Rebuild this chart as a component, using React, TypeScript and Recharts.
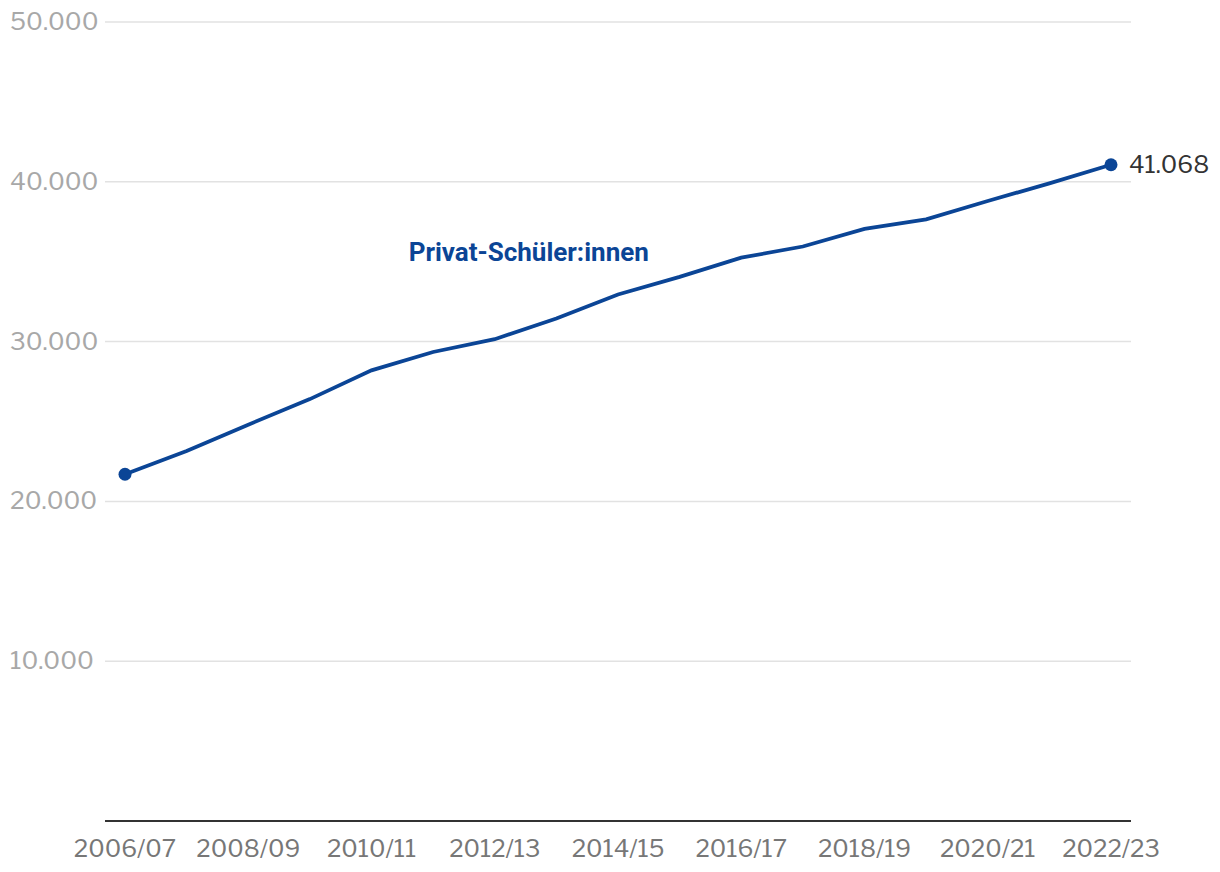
import React from "react";
import { LineChart, Line, XAxis, YAxis, CartesianGrid, ReferenceDot, LabelList } from "recharts";

const years = ["2006/07","2007/08","2008/09","2009/10","2010/11","2011/12","2012/13","2013/14","2014/15","2015/16","2016/17","2017/18","2018/19","2019/20","2020/21","2021/22","2022/23"];
const students = [21700,23150,24800,26400,28200,29350,30150,31450,32950,34050,35250,35950,37050,37650,38800,39900,41068];
const yTicks = [0,10000,20000,30000,40000,50000];
const xTicks = ["2006/07","2008/09","2010/11","2012/13","2014/15","2016/17","2018/19","2020/21","2022/23"];
const seriesLabel = "Privat-Schüler:innen";

const data = years.map((y, i) => ({ year: y, value: students[i] }));
const BLUE = "#0b4596";
const FONT = "'Libre Franklin', 'Liberation Sans', Arial, sans-serif";
const fmt = (v: number) => v.toLocaleString("de-DE");

const YTick = (props: any) => {
  const { y, payload } = props;
  if (payload.value === 0) return null;
  return (
    <text x={10} y={y} dy={8} textAnchor="start" fontSize={24.5} fill="#a8a8a8" fontFamily={FONT}>
      {fmt(payload.value)}
    </text>
  );
};

const XTick = (props: any) => {
  const { x, y, payload } = props;
  return (
    <text x={x} y={y} dy={28} textAnchor="middle" fontSize={24} fill="#777" fontFamily={FONT}>
      {payload.value}
    </text>
  );
};

const Dot = (props: any) => {
  const { cx, cy, index } = props;
  if (index !== 0 && index !== data.length - 1) return <g key={index} />;
  return <circle key={index} cx={cx} cy={cy} r={6.5} fill={BLUE} />;
};

const EndLabel = (props: any) => {
  const { x, y, index, value } = props;
  if (index !== data.length - 1) return null;
  return (
    <text x={x + 18} y={y} dy={8} fontSize={24} fill="#333" fontFamily={FONT}>
      {fmt(value)}
    </text>
  );
};

export default function App() {
  return (
    <div style={{ position: "absolute", left: 0, top: 0, background: "#fff" }}>
      <LineChart width={1220} height={872} data={data} margin={{ top: 22, right: 89, bottom: 0, left: 0 }}>
        <CartesianGrid vertical={false} stroke="#e2e2e2" strokeWidth={1.5} />
        <XAxis
          dataKey="year"
          ticks={xTicks}
          interval={0}
          height={51}
          padding={{ left: 20, right: 20 }}
          tick={<XTick />}
          tickLine={false}
          axisLine={{ stroke: "#333", strokeWidth: 2 }}
        />
        <YAxis
          domain={[0, 50000]}
          ticks={yTicks}
          width={105}
          tick={<YTick />}
          tickLine={false}
          axisLine={false}
        />
        <ReferenceDot
          x="2012/13"
          y={35600}
          r={0}
          fill="none"
          stroke="none"
          label={(p: any) => (
            <text
              x={p.viewBox.x + 34}
              y={p.viewBox.y}
              dy={9}
              textAnchor="middle"
              fontSize={26}
              fontWeight="bold"
              fill={BLUE}
              fontFamily="Roboto, sans-serif"
            >
              {seriesLabel}
            </text>
          )}
        />
        <Line
          type="linear"
          dataKey="value"
          stroke={BLUE}
          strokeWidth={3.8}
          dot={<Dot />}
          activeDot={false}
          isAnimationActive={false}
        >
          <LabelList dataKey="value" content={<EndLabel />} />
        </Line>
      </LineChart>
    </div>
  );
}
